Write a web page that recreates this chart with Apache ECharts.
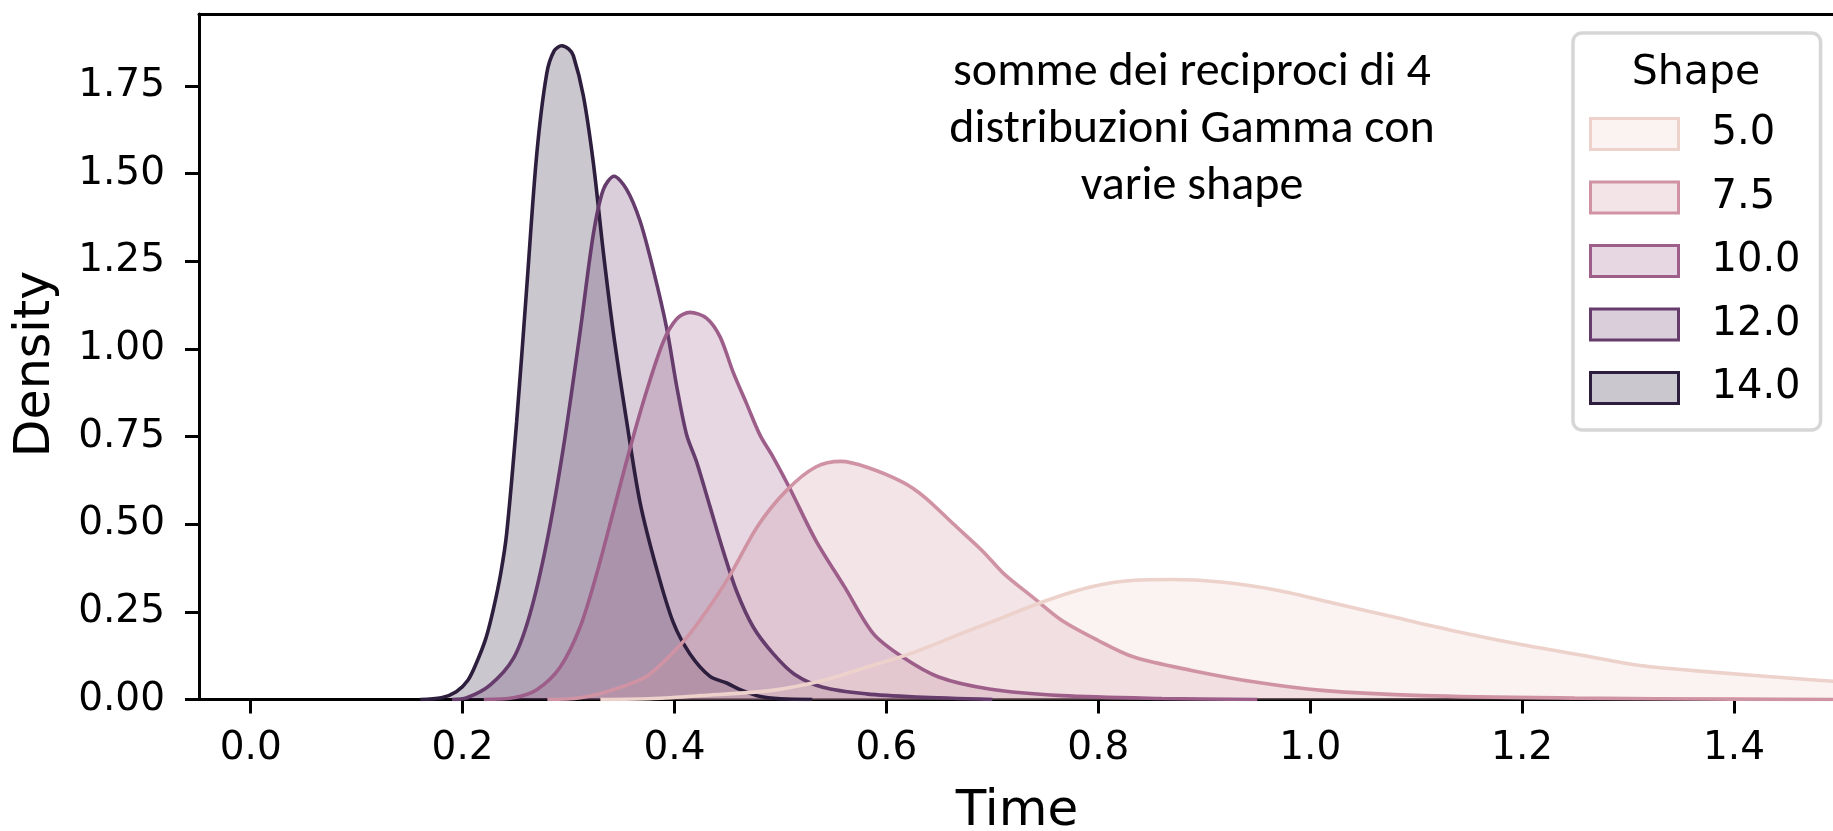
<!DOCTYPE html>
<html>
<head>
<meta charset="utf-8">
<script src="https://cdn.jsdelivr.net/npm/echarts@6/dist/echarts.min.js"></script>
<style>
  html, body { margin: 0; padding: 0; background: #ffffff; }
  #chart { width: 1833px; height: 831px; }
</style>
</head>
<body>
<div id="chart"></div>
<script>
// Density curves (KDE) of the sum of reciprocals of 4 Gamma variables, one per shape
const shapes = ['5.0', '7.5', '10.0', '12.0', '14.0'];
const colors = ['#edd1cb', '#d093a4', '#9d5e8a', '#663c6d', '#2d1e3e'];

const time5 = [0.33, 0.38, 0.424, 0.4923, 0.54, 0.581, 0.622, 0.6698, 0.7107, 0.7517, 0.7926, 0.8335, 0.8676, 0.9154, 0.970, 1.0246, 1.079, 1.1338, 1.1953, 1.2566, 1.3113, 1.3795, 1.4478, 1.494, 1.55];
const dens5 = [0, 0.003, 0.011, 0.026, 0.054, 0.092, 0.130, 0.187, 0.235, 0.283, 0.321, 0.340, 0.342, 0.335, 0.311, 0.273, 0.235, 0.197, 0.159, 0.126, 0.097, 0.078, 0.062, 0.052, 0.045];

const time7 = [0.28, 0.311, 0.342, 0.3738, 0.4052, 0.424, 0.4513, 0.4786, 0.506, 0.5333, 0.5572, 0.581, 0.6152, 0.6357, 0.663, 0.6902, 0.7107, 0.738, 0.7653, 0.7994, 0.8335, 0.888, 0.9496, 1.011, 1.1065, 1.25, 1.4, 1.5];
const dens7 = [0, 0.005, 0.028, 0.066, 0.155, 0.226, 0.349, 0.495, 0.597, 0.663, 0.679, 0.663, 0.620, 0.578, 0.501, 0.425, 0.359, 0.292, 0.226, 0.169, 0.121, 0.083, 0.049, 0.026, 0.011, 0.004, 0.001, 0];

const time10 = [0.22, 0.248, 0.27, 0.292, 0.3108, 0.3266, 0.3423, 0.358, 0.3738, 0.3895, 0.402, 0.4146, 0.4304, 0.443, 0.4555, 0.4681, 0.4807, 0.4933, 0.509, 0.5333, 0.5605, 0.5878, 0.6152, 0.6493, 0.697, 0.7653, 0.86, 0.95];
const dens10 = [0, 0.005, 0.028, 0.092, 0.206, 0.359, 0.537, 0.716, 0.881, 1.021, 1.085, 1.104, 1.087, 1.034, 0.932, 0.843, 0.754, 0.69, 0.601, 0.454, 0.321, 0.187, 0.121, 0.064, 0.030, 0.011, 0.003, 0];

const time12 = [0.19, 0.204, 0.2259, 0.2479, 0.2636, 0.2794, 0.295, 0.3108, 0.3234, 0.3328, 0.3429, 0.3549, 0.3674, 0.38, 0.3926, 0.402, 0.4115, 0.4209, 0.4335, 0.446, 0.4587, 0.4744, 0.4933, 0.5128, 0.540, 0.581, 0.629, 0.70];
const dens12 = [0, 0.005, 0.041, 0.117, 0.244, 0.448, 0.716, 1.046, 1.327, 1.454, 1.492, 1.454, 1.365, 1.225, 1.059, 0.894, 0.754, 0.677, 0.55, 0.423, 0.308, 0.206, 0.13, 0.073, 0.035, 0.016, 0.007, 0];

const time14 = [0.16, 0.18, 0.194, 0.205, 0.213, 0.222, 0.229, 0.236, 0.2416, 0.251, 0.2605, 0.270, 0.2794, 0.2865, 0.2935, 0.3, 0.3045, 0.314, 0.3234, 0.3328, 0.3423, 0.3549, 0.3674, 0.3832, 0.3989, 0.4146, 0.4335, 0.4493, 0.462, 0.48, 0.50, 0.53];
const dens14 = [0, 0.005, 0.022, 0.055, 0.104, 0.175, 0.257, 0.36, 0.474, 0.792, 1.174, 1.556, 1.785, 1.85, 1.864, 1.855, 1.836, 1.721, 1.530, 1.276, 1.046, 0.792, 0.563, 0.372, 0.219, 0.130, 0.066, 0.047, 0.028, 0.009, 0.002, 0];

const timeSets = [time5, time7, time10, time12, time14];
const densSets = [dens5, dens7, dens10, dens12, dens14];

const xTicks = [0, 0.2, 0.4, 0.6, 0.8, 1.0, 1.2, 1.4];
const yTicks = [0, 0.25, 0.5, 0.75, 1.0, 1.25, 1.5, 1.75];

const titleLines = ['somme dei reciproci di 4', 'distribuzioni Gamma con', 'varie shape'];

function withAlpha(hex, a) {
  const n = parseInt(hex.slice(1), 16);
  return 'rgba(' + ((n >> 16) & 255) + ',' + ((n >> 8) & 255) + ',' + (n & 255) + ',' + a + ')';
}

const tickFont = 'DejaVu Sans';
const X_MIN = -0.0488, X_MAX = 1.4934;
const Y_MIN = 0, Y_MAX = 1.9547;

// darkest (largest shape) drawn first so the lighter curves lie on top
const series = [];
for (let i = shapes.length - 1; i >= 0; i--) {
  series.push({
    name: shapes[i],
    type: 'line',
    smooth: 0.3,
    showSymbol: false,
    symbol: 'none',
    data: timeSets[i].map((t, k) => [t, densSets[i][k]]),
    lineStyle: { color: colors[i], width: 3.6 },
    itemStyle: { color: colors[i] },
    areaStyle: { color: colors[i], opacity: 0.25 },
    emphasis: { disabled: true },
    silent: true
  });
}

const chart = echarts.init(document.getElementById('chart'), null, { renderer: 'canvas' });
chart.setOption({
  animation: false,
  backgroundColor: '#ffffff',
  grid: { left: 199, top: 14, right: 0, bottom: 131.5, containLabel: false },
  xAxis: [{
    type: 'value',
    min: X_MIN, max: X_MAX,
    axisLine: { show: true, onZero: false, lineStyle: { color: '#000', width: 3 } },
    axisTick: { show: true, length: 14, customValues: xTicks, lineStyle: { color: '#000', width: 3 } },
    axisLabel: {
      customValues: xTicks,
      formatter: v => v.toFixed(1),
      fontSize: 39, fontFamily: tickFont, color: '#000', margin: 29.5
    },
    splitLine: { show: false }
  }, {
    type: 'value',
    position: 'top',
    min: X_MIN, max: X_MAX,
    axisLine: { show: true, onZero: false, lineStyle: { color: '#000', width: 3 } },
    axisTick: { show: false },
    axisLabel: { show: false },
    splitLine: { show: false }
  }],
  yAxis: {
    type: 'value',
    min: Y_MIN, max: Y_MAX,
    axisLine: { show: true, onZero: false, lineStyle: { color: '#000', width: 3 } },
    axisTick: { show: true, length: 14, customValues: yTicks, lineStyle: { color: '#000', width: 3 } },
    axisLabel: {
      customValues: yTicks,
      formatter: v => v.toFixed(2),
      fontSize: 39, fontFamily: tickFont, color: '#000', margin: 34
    },
    splitLine: { show: false }
  },
  legend: {
    orient: 'vertical',
    left: 1573, top: 33,
    padding: [81, 20, 22, 16],
    itemWidth: 88, itemHeight: 31, itemGap: 23.5,
    backgroundColor: 'rgba(255,255,255,0.8)',
    borderColor: '#d6d6d6', borderWidth: 3.5, borderRadius: 9,
    selectedMode: false,
    textStyle: { fontSize: 40, fontFamily: tickFont, color: '#000', padding: [0, 0, 0, 28] },
    data: shapes.map((s, i) => ({
      name: s,
      icon: 'rect',
      itemStyle: { color: withAlpha(colors[i], 0.25), borderColor: colors[i], borderWidth: 3 }
    }))
  },
  graphic: [{
    type: 'text',
    x: 1192, y: 130,
    z: 100,
    style: {
      text: titleLines.join('\n'),
      font: '48px Carlito, Lato, sans-serif',
      fill: '#000',
      align: 'center', verticalAlign: 'middle',
      lineHeight: 57
    }
  }, {
    type: 'text',
    x: 1696, y: 73,
    z: 100,
    style: {
      text: 'Shape',
      font: '41px "DejaVu Sans"',
      fill: '#000',
      align: 'center', verticalAlign: 'middle'
    }
  }, {
    type: 'text',
    x: 1017, y: 812,
    z: 100,
    style: {
      text: 'Time',
      font: '50px "DejaVu Sans"',
      fill: '#000',
      align: 'center', verticalAlign: 'middle'
    }
  }, {
    type: 'text',
    x: 36, y: 364,
    z: 100,
    rotation: Math.PI / 2,
    style: {
      text: 'Density',
      font: '49px "DejaVu Sans"',
      fill: '#000',
      align: 'center', verticalAlign: 'middle'
    }
  }],
  series: series
});
</script>
</body>
</html>
